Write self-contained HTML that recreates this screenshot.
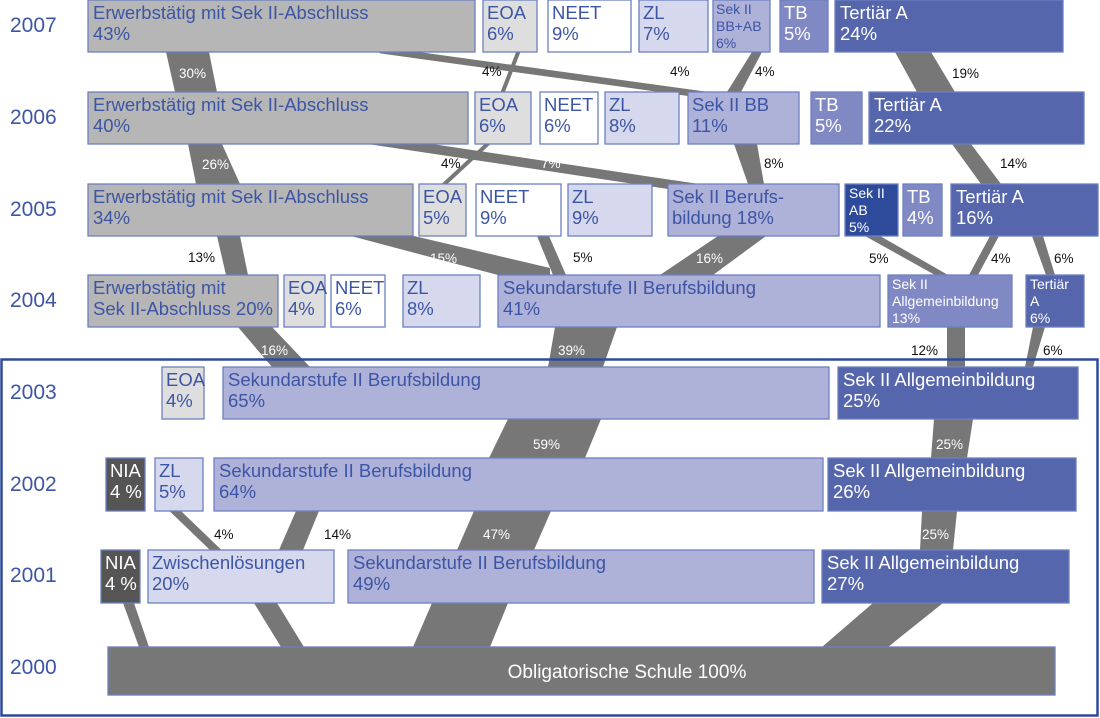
<!DOCTYPE html>
<html><head><meta charset="utf-8"><style>
html,body{margin:0;padding:0;background:#fff;}
svg{display:block;font-family:"Liberation Sans",sans-serif;}
.b{stroke:#6d80c2;stroke-width:1.3;}
.t{font-size:18.5px;fill:#3d55a5;}
.w{font-size:18.5px;fill:#fff;}
.s{font-size:14px;}
.y{font-size:21px;fill:#3d55a5;}
.f{fill:#777;}
.lk{font-size:13.5px;fill:#111;}
.lw{font-size:13.5px;fill:#fff;}
</style></head><body>
<svg width="1100" height="718" viewBox="0 0 1100 718" xmlns="http://www.w3.org/2000/svg">
<g class="f">
<polygon points="166,52 209,52 217,92 175,92"/>
<line x1="521" y1="45" x2="500" y2="99" stroke="#777" stroke-width="4"/>
<line x1="380" y1="50" x2="720" y2="97" stroke="#777" stroke-width="6.7"/>
<polygon points="752,52 762,52 741,92 727,92"/>
<polygon points="895,52 931,52 955,92 917,92"/>
<polygon points="188,144 222,144 240,184 196,184"/>
<line x1="494" y1="138" x2="438" y2="190" stroke="#777" stroke-width="4"/>
<line x1="340" y1="135" x2="700" y2="189" stroke="#777" stroke-width="9.5"/>
<polygon points="734,144 757,144 764,184 748,184"/>
<polygon points="952,144 971,144 1001,184 981,184"/>
<polygon points="217,236 240,236 248,275 226,275"/>
<polygon points="351,236 414,236 550,268 550,275 498,275"/>
<polygon points="537,236 549,236 566,275 553,275"/>
<polygon points="718,236 766,236 713,275 660,275"/>
<polygon points="865,236 880,236 948,275 935,275"/>
<polygon points="990,236 999,236 978,275 969,275"/>
<polygon points="1032,236 1043,236 1055,275 1046,275"/>
<polygon points="238,327 272,327 310,367 272,367"/>
<polygon points="555,327 617,327 603,367 548,367"/>
<polygon points="947,327 965,327 965,367 947,367"/>
<polygon points="1033,327 1045,327 1033,367 1025,367"/>
<polygon points="508,419 601,419 585,458 489,458"/>
<polygon points="934,419 973,419 967,458 931,458"/>
<line x1="170" y1="506" x2="222" y2="556" stroke="#777" stroke-width="8"/>
<polygon points="296,511 319,511 303,550 279,550"/>
<polygon points="474,511 551,511 534,550 457,550"/>
<polygon points="922,511 957,511 953,550 920,550"/>
<polygon points="123,603 134,603 149,647 139,647"/>
<polygon points="254,603 277,603 304,647 281,647"/>
<polygon points="432,603 508,603 490,647 413,647"/>
<polygon points="873,603 943,603 888,647 822,647"/>
</g>
<rect x="1.5" y="359.5" width="1096" height="356" fill="none" stroke="#2e4a9b" stroke-width="2.5"/>
<text class="y" x="10" y="32">2007</text>
<text class="y" x="10" y="124">2006</text>
<text class="y" x="10" y="216">2005</text>
<text class="y" x="10" y="307">2004</text>
<text class="y" x="10" y="399">2003</text>
<text class="y" x="10" y="491">2002</text>
<text class="y" x="10" y="582">2001</text>
<text class="y" x="10" y="674">2000</text>

<rect class="b" x="88" y="0" width="387" height="52" fill="#b6b6b6"/>
<text class="t" x="93" y="19">Erwerbstätig mit Sek II-Abschluss</text><text class="t" x="93" y="40">43%</text>
<rect class="b" x="483" y="0" width="54" height="52" fill="#dedede"/>
<text class="t" x="487" y="19">EOA</text><text class="t" x="487" y="40">6%</text>
<rect class="b" x="548" y="0" width="83" height="52" fill="#fff"/>
<text class="t" x="552" y="19">NEET</text><text class="t" x="552" y="40">9%</text>
<rect class="b" x="639" y="0" width="69" height="52" fill="#d6d9ed"/>
<text class="t" x="643" y="19">ZL</text><text class="t" x="643" y="40">7%</text>
<rect class="b" x="713" y="0" width="57" height="52" fill="#aeb1d8"/>
<text class="t s" x="716" y="14">Sek II</text><text class="t s" x="716" y="31">BB+AB</text><text class="t s" x="716" y="48">6%</text>
<rect class="b" x="780" y="0" width="48" height="52" fill="#8189c4"/>
<text class="w" x="784" y="19">TB</text><text class="w" x="784" y="40">5%</text>
<rect class="b" x="835" y="0" width="228" height="52" fill="#5566ad"/>
<text class="w" x="840" y="19">Tertiär A</text><text class="w" x="840" y="40">24%</text>

<rect class="b" x="88" y="92" width="380" height="52" fill="#b6b6b6"/>
<text class="t" x="93" y="111">Erwerbstätig mit Sek II-Abschluss</text><text class="t" x="93" y="132">40%</text>
<rect class="b" x="475" y="92" width="56" height="52" fill="#dedede"/>
<text class="t" x="479" y="111">EOA</text><text class="t" x="479" y="132">6%</text>
<rect class="b" x="540" y="92" width="58" height="52" fill="#fff"/>
<text class="t" x="544" y="111">NEET</text><text class="t" x="544" y="132">6%</text>
<rect class="b" x="605" y="92" width="74" height="52" fill="#d6d9ed"/>
<text class="t" x="609" y="111">ZL</text><text class="t" x="609" y="132">8%</text>
<rect class="b" x="688" y="92" width="111" height="52" fill="#aeb1d8"/>
<text class="t" x="692" y="111">Sek II BB</text><text class="t" x="692" y="132">11%</text>
<rect class="b" x="811" y="92" width="51" height="52" fill="#8189c4"/>
<text class="w" x="815" y="111">TB</text><text class="w" x="815" y="132">5%</text>
<rect class="b" x="869" y="92" width="215" height="52" fill="#5566ad"/>
<text class="w" x="874" y="111">Tertiär A</text><text class="w" x="874" y="132">22%</text>

<rect class="b" x="88" y="184" width="325" height="52" fill="#b6b6b6"/>
<text class="t" x="93" y="203">Erwerbstätig mit Sek II-Abschluss</text><text class="t" x="93" y="224">34%</text>
<rect class="b" x="419" y="184" width="47" height="52" fill="#dedede"/>
<text class="t" x="423" y="203">EOA</text><text class="t" x="423" y="224">5%</text>
<rect class="b" x="476" y="184" width="85" height="52" fill="#fff"/>
<text class="t" x="480" y="203">NEET</text><text class="t" x="480" y="224">9%</text>
<rect class="b" x="568" y="184" width="84" height="52" fill="#d6d9ed"/>
<text class="t" x="572" y="203">ZL</text><text class="t" x="572" y="224">9%</text>
<rect class="b" x="668" y="184" width="171" height="52" fill="#aeb1d8"/>
<text class="t" x="672" y="203">Sek II Berufs-</text><text class="t" x="672" y="224">bildung 18%</text>
<rect class="b" x="845" y="184" width="53" height="52" fill="#2e4a9b"/>
<text class="w s" x="849" y="198">Sek II</text><text class="w s" x="849" y="215">AB</text><text class="w s" x="849" y="232">5%</text>
<rect class="b" x="903" y="184" width="39" height="52" fill="#8189c4"/>
<text class="w" x="907" y="203">TB</text><text class="w" x="907" y="224">4%</text>
<rect class="b" x="951" y="184" width="147" height="52" fill="#5566ad"/>
<text class="w" x="956" y="203">Tertiär A</text><text class="w" x="956" y="224">16%</text>

<rect class="b" x="88" y="275" width="190" height="52" fill="#b6b6b6"/>
<text class="t" x="93" y="294">Erwerbstätig mit</text><text class="t" x="93" y="315">Sek II-Abschluss 20%</text>
<rect class="b" x="284" y="275" width="41" height="52" fill="#dedede"/>
<text class="t" x="288" y="294">EOA</text><text class="t" x="288" y="315">4%</text>
<rect class="b" x="331" y="275" width="54" height="52" fill="#fff"/>
<text class="t" x="335" y="294">NEET</text><text class="t" x="335" y="315">6%</text>
<rect class="b" x="403" y="275" width="77" height="52" fill="#d6d9ed"/>
<text class="t" x="407" y="294">ZL</text><text class="t" x="407" y="315">8%</text>
<rect class="b" x="498" y="275" width="382" height="52" fill="#aeb1d8"/>
<text class="t" x="503" y="294">Sekundarstufe II Berufsbildung</text><text class="t" x="503" y="315">41%</text>
<rect class="b" x="888" y="275" width="124" height="52" fill="#8189c4"/>
<text class="w s" x="892" y="289">Sek II</text><text class="w s" x="892" y="306">Allgemeinbildung</text><text class="w s" x="892" y="323">13%</text>
<rect class="b" x="1026" y="275" width="58" height="52" fill="#5566ad"/>
<text class="w s" x="1030" y="289">Tertiär</text><text class="w s" x="1030" y="306">A</text><text class="w s" x="1030" y="323">6%</text>

<rect class="b" x="162" y="367" width="42" height="52" fill="#dedede"/>
<text class="t" x="166" y="386">EOA</text><text class="t" x="166" y="407">4%</text>
<rect class="b" x="223" y="367" width="606" height="52" fill="#aeb1d8"/>
<text class="t" x="228" y="386">Sekundarstufe II Berufsbildung</text><text class="t" x="228" y="407">65%</text>
<rect class="b" x="838" y="367" width="240" height="52" fill="#5566ad"/>
<text class="w" x="843" y="386">Sek II Allgemeinbildung</text><text class="w" x="843" y="407">25%</text>

<rect class="b" x="106" y="458" width="39" height="53" fill="#555"/>
<text class="w" x="110" y="477">NIA</text><text class="w" x="110" y="498">4 %</text>
<rect class="b" x="155" y="458" width="48" height="53" fill="#d6d9ed"/>
<text class="t" x="159" y="477">ZL</text><text class="t" x="159" y="498">5%</text>
<rect class="b" x="214" y="458" width="609" height="53" fill="#aeb1d8"/>
<text class="t" x="219" y="477">Sekundarstufe II Berufsbildung</text><text class="t" x="219" y="498">64%</text>
<rect class="b" x="828" y="458" width="248" height="53" fill="#5566ad"/>
<text class="w" x="833" y="477">Sek II Allgemeinbildung</text><text class="w" x="833" y="498">26%</text>

<rect class="b" x="101" y="550" width="39" height="53" fill="#555"/>
<text class="w" x="105" y="569">NIA</text><text class="w" x="105" y="590">4 %</text>
<rect class="b" x="148" y="550" width="186" height="53" fill="#d6d9ed"/>
<text class="t" x="152" y="569">Zwischenlösungen</text><text class="t" x="152" y="590">20%</text>
<rect class="b" x="348" y="550" width="466" height="53" fill="#aeb1d8"/>
<text class="t" x="353" y="569">Sekundarstufe II Berufsbildung</text><text class="t" x="353" y="590">49%</text>
<rect class="b" x="822" y="550" width="247" height="53" fill="#5566ad"/>
<text class="w" x="827" y="569">Sek II Allgemeinbildung</text><text class="w" x="827" y="590">27%</text>

<rect class="b" x="108" y="647" width="947" height="48" fill="#777"/>
<text class="w" x="627" y="678" text-anchor="middle" style="font-size:19px">Obligatorische Schule 100%</text>

<text class="lw" x="179" y="78">30%</text>
<text class="lk" x="482" y="76">4%</text>
<text class="lk" x="670" y="76">4%</text>
<text class="lk" x="755" y="76">4%</text>
<text class="lk" x="952" y="78">19%</text>
<text class="lw" x="202" y="169">26%</text>
<text class="lk" x="441" y="168">4%</text>
<text class="lw" x="541" y="168">7%</text>
<text class="lk" x="764" y="168">8%</text>
<text class="lk" x="1000" y="168">14%</text>
<text class="lk" x="188" y="262">13%</text>
<text class="lw" x="430" y="263">15%</text>
<text class="lk" x="573" y="262">5%</text>
<text class="lw" x="696" y="263">16%</text>
<text class="lk" x="869" y="263">5%</text>
<text class="lk" x="991" y="263">4%</text>
<text class="lk" x="1054" y="263">6%</text>
<text class="lw" x="261" y="355">16%</text>
<text class="lw" x="558" y="355">39%</text>
<text class="lk" x="911" y="355">12%</text>
<text class="lk" x="1043" y="355">6%</text>
<text class="lw" x="533" y="449">59%</text>
<text class="lw" x="936" y="449">25%</text>
<text class="lk" x="214" y="539">4%</text>
<text class="lk" x="324" y="539">14%</text>
<text class="lw" x="483" y="539">47%</text>
<text class="lw" x="922" y="539">25%</text>
</svg>
</body></html>
